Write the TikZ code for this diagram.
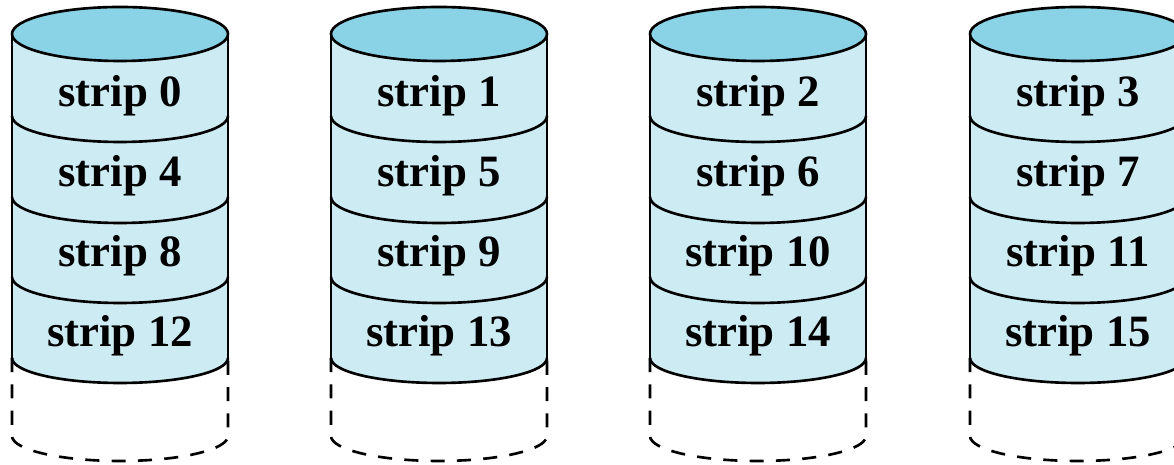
\documentclass[tikz,border=0pt]{standalone}
\usepackage{fontspec}
\setmainfont{Liberation Serif}
\usepackage{tikz}

\definecolor{lidblue}{HTML}{8AD3E7}
\definecolor{bodyblue}{HTML}{CDEBF2}

\begin{document}
\begin{tikzpicture}[x=0.02cm, y=0.02cm, line width=1.5pt,
    body/.style={fill=bodyblue},
    lid/.style={draw, fill=lidblue},
    rim/.style={draw},
    spare/.style={draw, dash pattern=on 8pt off 7pt},
    striplabel/.style={font=\fontsize{25.5}{30}\selectfont\bfseries}]
    \useasboundingbox (0, 0) rectangle (1174, 465);
    % disk 0
    \begin{scope}[shift={(12, 0)}]
        \fill[body] (0, 431) -- (0, 107) arc[start angle=180, end angle=360, x radius=108, y radius=25] -- (216, 431) -- cycle;
        \draw[lid] (108, 431) ellipse[x radius=108, y radius=27];
        \draw[rim] (0, 431) -- (0, 107);
        \draw[rim] (216, 431) -- (216, 107);
        \draw[rim] (0, 349) arc[start angle=180, end angle=360, x radius=108, y radius=26];
        \draw[rim] (0, 268) arc[start angle=180, end angle=360, x radius=108, y radius=26];
        \draw[rim] (0, 188) arc[start angle=180, end angle=360, x radius=108, y radius=26];
        \draw[rim] (0, 107) arc[start angle=180, end angle=360, x radius=108, y radius=25];
        \draw[spare] (0, 107) -- (0, 29) arc[start angle=180, end angle=360, x radius=108, y radius=25] -- (216, 107);
        \node[striplabel] (s0) at (108, 369) {strip 0};
        \node[striplabel] (s4) at (108, 289) {strip 4};
        \node[striplabel] (s8) at (108, 209) {strip 8};
        \node[striplabel] (s12) at (108, 129) {strip 12};
    \end{scope}
    % disk 1
    \begin{scope}[shift={(331, 0)}]
        \fill[body] (0, 431) -- (0, 107) arc[start angle=180, end angle=360, x radius=108, y radius=25] -- (216, 431) -- cycle;
        \draw[lid] (108, 431) ellipse[x radius=108, y radius=27];
        \draw[rim] (0, 431) -- (0, 107);
        \draw[rim] (216, 431) -- (216, 107);
        \draw[rim] (0, 349) arc[start angle=180, end angle=360, x radius=108, y radius=26];
        \draw[rim] (0, 268) arc[start angle=180, end angle=360, x radius=108, y radius=26];
        \draw[rim] (0, 188) arc[start angle=180, end angle=360, x radius=108, y radius=26];
        \draw[rim] (0, 107) arc[start angle=180, end angle=360, x radius=108, y radius=25];
        \draw[spare] (0, 107) -- (0, 29) arc[start angle=180, end angle=360, x radius=108, y radius=25] -- (216, 107);
        \node[striplabel] (s1) at (108, 369) {strip 1};
        \node[striplabel] (s5) at (108, 289) {strip 5};
        \node[striplabel] (s9) at (108, 209) {strip 9};
        \node[striplabel] (s13) at (108, 129) {strip 13};
    \end{scope}
    % disk 2
    \begin{scope}[shift={(650, 0)}]
        \fill[body] (0, 431) -- (0, 107) arc[start angle=180, end angle=360, x radius=108, y radius=25] -- (216, 431) -- cycle;
        \draw[lid] (108, 431) ellipse[x radius=108, y radius=27];
        \draw[rim] (0, 431) -- (0, 107);
        \draw[rim] (216, 431) -- (216, 107);
        \draw[rim] (0, 349) arc[start angle=180, end angle=360, x radius=108, y radius=26];
        \draw[rim] (0, 268) arc[start angle=180, end angle=360, x radius=108, y radius=26];
        \draw[rim] (0, 188) arc[start angle=180, end angle=360, x radius=108, y radius=26];
        \draw[rim] (0, 107) arc[start angle=180, end angle=360, x radius=108, y radius=25];
        \draw[spare] (0, 107) -- (0, 29) arc[start angle=180, end angle=360, x radius=108, y radius=25] -- (216, 107);
        \node[striplabel] (s2) at (108, 369) {strip 2};
        \node[striplabel] (s6) at (108, 289) {strip 6};
        \node[striplabel] (s10) at (108, 209) {strip 10};
        \node[striplabel] (s14) at (108, 129) {strip 14};
    \end{scope}
    % disk 3
    \begin{scope}[shift={(970, 0)}]
        \fill[body] (0, 431) -- (0, 107) arc[start angle=180, end angle=360, x radius=108, y radius=25] -- (216, 431) -- cycle;
        \draw[lid] (108, 431) ellipse[x radius=108, y radius=27];
        \draw[rim] (0, 431) -- (0, 107);
        \draw[rim] (216, 431) -- (216, 107);
        \draw[rim] (0, 349) arc[start angle=180, end angle=360, x radius=108, y radius=26];
        \draw[rim] (0, 268) arc[start angle=180, end angle=360, x radius=108, y radius=26];
        \draw[rim] (0, 188) arc[start angle=180, end angle=360, x radius=108, y radius=26];
        \draw[rim] (0, 107) arc[start angle=180, end angle=360, x radius=108, y radius=25];
        \draw[spare] (0, 107) -- (0, 29) arc[start angle=180, end angle=360, x radius=108, y radius=25] -- (216, 107);
        \node[striplabel] (s3) at (108, 369) {strip 3};
        \node[striplabel] (s7) at (108, 289) {strip 7};
        \node[striplabel] (s11) at (108, 209) {strip 11};
        \node[striplabel] (s15) at (108, 129) {strip 15};
    \end{scope}
\end{tikzpicture}
\end{document}
